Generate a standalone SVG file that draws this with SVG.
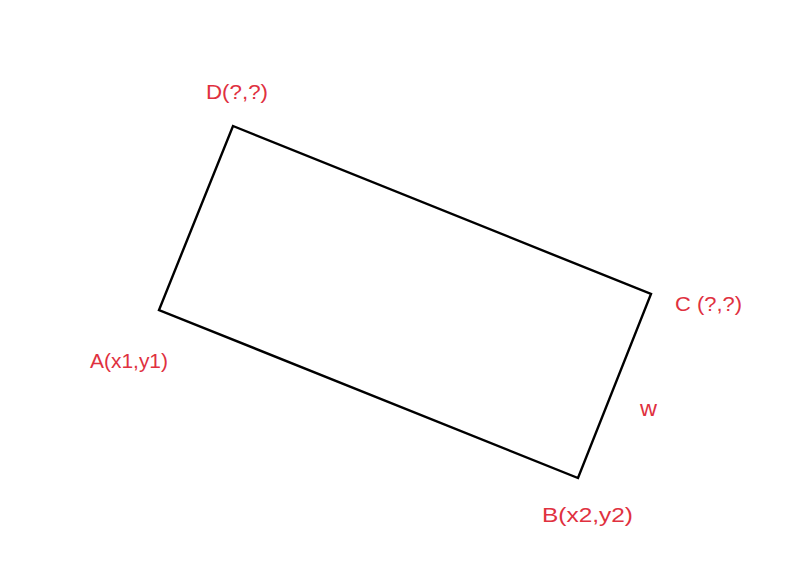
<svg xmlns="http://www.w3.org/2000/svg" width="800" height="580" viewBox="0 0 800 580">
<style>
.lbl{font-family:"Liberation Sans","DejaVu Sans",sans-serif;font-size:21px;fill:#e0313f}
.edge{fill:none;stroke:#000;stroke-width:2.4;stroke-linejoin:miter}
</style>
<rect width="800" height="580" fill="#fff"/>
<g id="rectangle">
<polygon class="edge" points="233,126 651,294 578,478 159,310"/>
</g>
<g id="connectors"></g>
<g id="label-D"><text class="lbl" x="206" y="99" textLength="62" lengthAdjust="spacingAndGlyphs">D(?,?)</text></g>
<g id="label-C"><text class="lbl" x="675" y="311" textLength="67" lengthAdjust="spacingAndGlyphs">C (?,?)</text></g>
<g id="label-A"><text class="lbl" x="90" y="368" textLength="78" lengthAdjust="spacingAndGlyphs">A(x1,y1)</text></g>
<g id="label-B"><text class="lbl" x="542" y="522" textLength="91" lengthAdjust="spacingAndGlyphs">B(x2,y2)</text></g>
<g id="label-w"><text class="lbl" x="640" y="416" style="font-size:22px" textLength="17" lengthAdjust="spacingAndGlyphs">w</text></g>
</svg>
